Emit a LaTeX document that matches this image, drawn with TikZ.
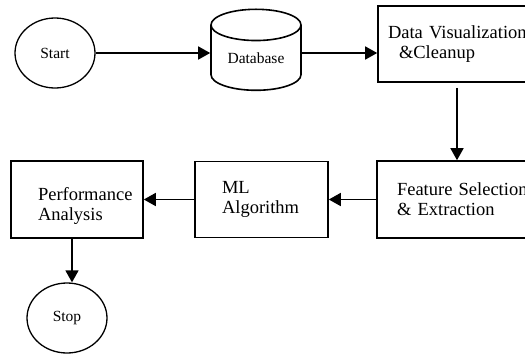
\documentclass[tikz,border=0pt]{standalone}
\usepackage{fontspec}
\setmainfont{Liberation Serif}
\usetikzlibrary{shapes.geometric,arrows.meta}

\begin{document}
\begin{tikzpicture}[x=1pt,y=-1pt,
    box/.style={draw, line width=1.6pt, rectangle, align=left, anchor=center,
        font=\fontsize{18.5}{20}\selectfont},
    term/.style={draw, line width=1.3pt, ellipse, minimum width=80pt, minimum height=70pt,
        inner sep=0pt, font=\fontsize{15.5}{18}\selectfont},
    arr/.style={line width=1.6pt, -{Triangle[length=12pt,width=13pt]}}]
    \clip (0,0) rectangle (525,354);
    % start and stop
    \node[term] (start) at (55,53) {Start};
    \node[term] (stop) at (67,318) {Stop};
    % database
    \node[draw, line width=1.6pt, cylinder, shape border rotate=90, aspect=0.55,
        minimum width=90pt, minimum height=81pt, inner sep=0pt,
        font=\fontsize{15.5}{18}\selectfont] (db) at (256,58) {Database};
    % processing boxes (the two on the right run past the edge)
    \node[box, minimum width=182pt, minimum height=76pt, text width=162pt, inner xsep=10pt]
        (viz) at (469,44) {Data Visualization\\\hspace*{11pt}\&Cleanup};
    \node[box, minimum width=182pt, minimum height=77pt, text width=142pt, inner xsep=20pt]
        (feat) at (468,199.5) {Feature Selection\\\& Extraction};
    \node[box, minimum width=133pt, minimum height=76pt, text width=79pt, inner xsep=27pt]
        (ml) at (261.5,199.5) {ML\\Algorithm};
    \node[box, minimum width=132pt, minimum height=77pt, text width=78pt, inner xsep=27pt]
        (perf) at (77,199.5) {\rule{0pt}{25pt}Performance\\Analysis};
    \coordinate (vdrop) at (457,0);
    \coordinate (pdrop) at (72,0);
    % connectors
    \draw[arr] (start.east) -- (start.east -| db.west);
    \draw[arr] (start.east -| db.east) -- (start.east -| viz.west);
    \draw[arr, shorten <=5pt] (viz.south -| vdrop) -- (feat.north -| vdrop);
    \draw[arr] (feat) -- (ml);
    \draw[arr] (ml) -- (perf);
    \draw[arr] (perf.south -| pdrop) -- (stop.north -| pdrop);
\end{tikzpicture}
\end{document}
